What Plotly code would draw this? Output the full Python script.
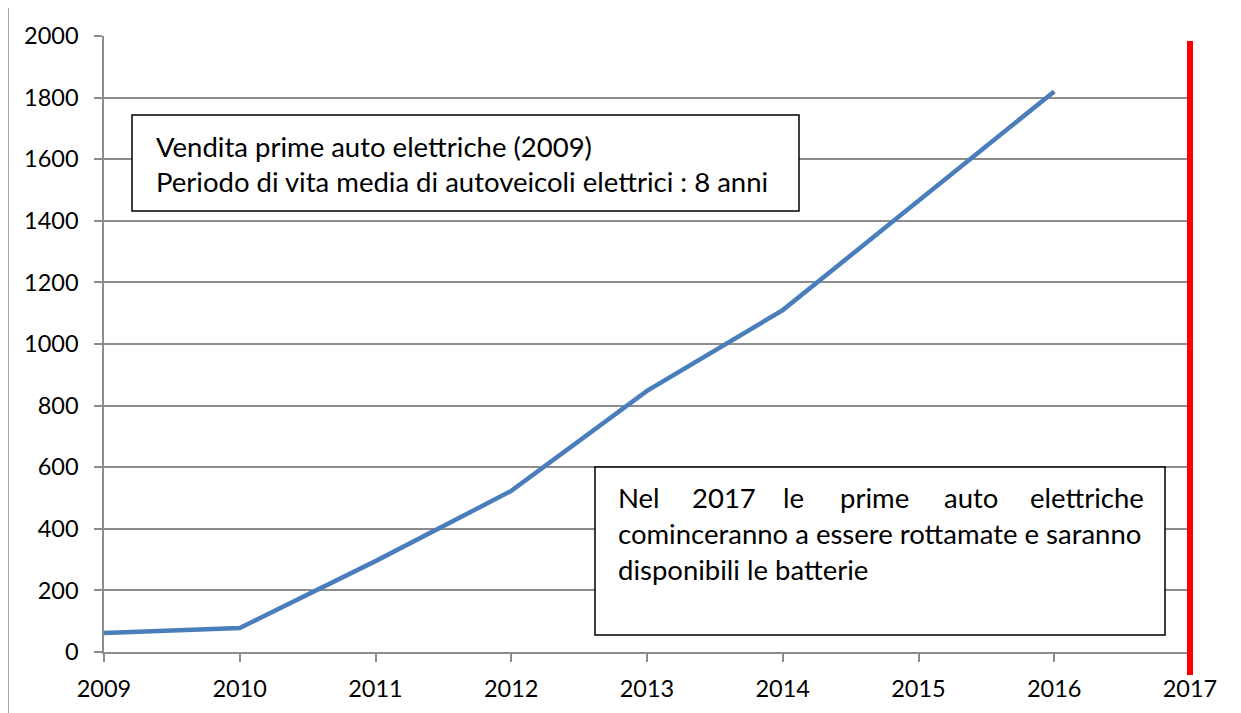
import plotly.graph_objects as go

# -----------------------------
# Data
# -----------------------------
years = [2009, 2010, 2011, 2012, 2013, 2014, 2015, 2016]
vendite = [62, 78, 295, 523, 848, 1110, 1465, 1820]

x_ticks = [2009, 2010, 2011, 2012, 2013, 2014, 2015, 2016, 2017]
y_ticks = [0, 200, 400, 600, 800, 1000, 1200, 1400, 1600, 1800, 2000]

anno_rottamazione = 2017

box1_lines = [
    "Vendita prime auto elettriche (2009)",
    "Periodo di vita media di autoveicoli elettrici : 8 anni",
]
box2_first_words = ["Nel", "2017", "le", "prime", "auto", "elettriche"]
box2_lines = [
    "cominceranno a essere rottamate e saranno",
    "disponibili le batterie",
]

FONT = "Lato"
GRID = "#8c8c8c"
BOX_FONT = 27.5
TICK_FONT = 23.5

# -----------------------------
# Geometry (screen pixels; page has an 8px body margin)
# -----------------------------
OFF = 8
FIG_W, FIG_H = 1241 - OFF, 713 - OFF
L, R, T, B = 104, 1190, 36, 652
W, H = R - L, B - T


def px(xp):
    return (xp - L) / W


def py(yp):
    return (B - yp) / H


# -----------------------------
# Plot
# -----------------------------
fig = go.Figure()

fig.add_trace(
    go.Scatter(
        x=years,
        y=vendite,
        mode="lines",
        line=dict(color="#4a7ebb", width=4.5),
        showlegend=False,
        hoverinfo="x+y",
    )
)

shapes = []

# outer chart frame (cut off at right and bottom in the reference)
shapes.append(
    dict(type="rect", xref="paper", yref="paper",
         x0=px(8.5), x1=px(1400), y0=py(900), y1=py(6),
         line=dict(color="#a6a6a6", width=1), layer="below")
)

# red vertical line at 2017
x_red = (anno_rottamazione - x_ticks[0]) / (x_ticks[-1] - x_ticks[0])
shapes.append(
    dict(type="line", xref="paper", yref="paper",
         x0=x_red, x1=x_red, y0=py(675), y1=py(41),
         line=dict(color="#ff0000", width=6))
)

# text boxes
shapes.append(
    dict(type="rect", xref="paper", yref="paper",
         x0=px(132), x1=px(799), y0=py(211), y1=py(115),
         line=dict(color="black", width=1.5), fillcolor="white")
)
shapes.append(
    dict(type="rect", xref="paper", yref="paper",
         x0=px(595), x1=px(1165), y0=py(635), y1=py(467),
         line=dict(color="black", width=1.5), fillcolor="white")
)


def label(text, xs, ys, anchor="left"):
    return dict(text=text, xref="paper", yref="paper", x=px(xs), y=py(ys),
                xanchor=anchor, yanchor="middle", showarrow=False,
                font=dict(family=FONT, size=BOX_FONT, color="black"))


annotations = []
for line, yc in zip(box1_lines, [146, 181]):
    annotations.append(label(line, 154, yc))

# first line of box 2 is justified: words placed as in the reference
word_x = [616, 690, 781, 838, 942, 1146]
for i, (w, xs) in enumerate(zip(box2_first_words, word_x)):
    annotations.append(label(w, xs, 497, "right" if i == len(word_x) - 1 else "left"))
for line, yc in zip(box2_lines, [533, 569]):
    annotations.append(label(line, 616, yc))

fig.update_layout(
    width=FIG_W,
    height=FIG_H,
    margin=dict(l=L - OFF, r=FIG_W - (R - OFF), t=T - OFF, b=FIG_H - (B - OFF)),
    paper_bgcolor="white",
    plot_bgcolor="white",
    showlegend=False,
    shapes=shapes,
    annotations=annotations,
    font=dict(family=FONT, size=TICK_FONT, color="black"),
    xaxis=dict(
        range=[x_ticks[0], x_ticks[-1]],
        tickmode="array",
        tickvals=x_ticks,
        ticktext=[str(v) for v in x_ticks],
        showgrid=False,
        zeroline=False,
        showline=True,
        linecolor=GRID,
        linewidth=1.5,
        ticks="outside",
        ticklen=8,
        tickcolor=GRID,
        tickwidth=1.5,
        ticklabelstandoff=7,
        tickfont=dict(family=FONT, size=TICK_FONT, color="black"),
    ),
    yaxis=dict(
        range=[0, 2000],
        tickmode="array",
        tickvals=y_ticks,
        showgrid=True,
        gridcolor=GRID,
        gridwidth=1.5,
        zeroline=False,
        showline=True,
        linecolor=GRID,
        linewidth=1.5,
        ticks="outside",
        ticklen=8,
        tickcolor=GRID,
        tickwidth=1.5,
        ticklabelstandoff=11,
        tickfont=dict(family=FONT, size=TICK_FONT, color="black"),
    ),
)

fig.write_html("out.html")
